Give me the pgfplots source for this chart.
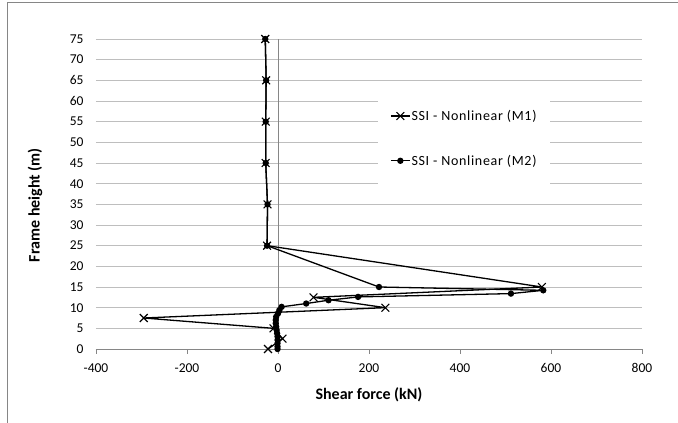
\documentclass[border=0pt]{standalone}
\usepackage{fontspec}
\setmainfont{Carlito}
\usepackage{pgfplots}
\pgfplotsset{compat=1.18}

\definecolor{gridgray}{RGB}{190,190,190}
\definecolor{axisgray}{RGB}{134,134,134}

\begin{document}
\begin{tikzpicture}
\useasboundingbox (-96pt,-74pt) rectangle (582pt,349pt);
\draw[axisgray,line width=1pt] (-88pt,-74pt) -- (-88pt,346pt) -- (582pt,346pt);
\begin{axis}[
  scale only axis,
  width=546pt, height=310pt,
  at={(0,0)}, anchor=south west,
  xmin=-400, xmax=800, ymin=0, ymax=75,
  xtick={-400,-200,0,200,400,600,800},
  ytick={0,5,...,75},
  axis x line*=bottom, axis y line*=left,
  x axis line style={axisgray, line width=0.8pt, -},
  y axis line style={draw=none},
  xtick style={axisgray, line width=0.8pt},
  ytick style={draw=none},
  tick align=outside, major tick length=5pt,
  ymajorgrids, grid style={gridgray, line width=0.8pt},
  /pgf/number format/assume math mode=true,
  tick label style={font=\fontsize{13.5}{15}\selectfont, black},
  xticklabel style={yshift=-6pt},
  yticklabel style={xshift=-4pt},
  xlabel={\textbf{Shear force (kN)}},
  ylabel={\textbf{Frame height (m)}},
  label style={font=\fontsize{16}{18}\selectfont},
  xlabel style={at={(rel axis cs:0.5,0)}, anchor=center, yshift=-46pt},
  ylabel style={at={(rel axis cs:-0.1117,0.4645)}, anchor=center},
  legend style={at={(rel axis cs:0.5165,0.842)}, anchor=north west,
    draw=none, fill=white,
    font=\fontsize{14}{16}\selectfont\addfontfeatures{LetterSpace=5},
    inner xsep=12pt, inner ysep=22pt, row sep=33pt,
    nodes={inner xsep=1pt, inner ysep=0pt},
    /tikz/every even column/.append style={column sep=0pt}},
  legend cell align=left,
  legend image code/.code={\draw[#1, mark=none] plot coordinates {(0pt,0pt) (19pt,0pt)};
    \draw[#1, only marks] plot coordinates {(9.5pt,0pt)};},
]
\draw[axisgray, line width=0.8pt] (axis cs:0,0) -- (axis cs:0,75);
\addplot[black, line width=1.3pt, mark=x, mark size=5.5pt, mark options={line width=1.1pt}] coordinates {
(-28,75)(-26,65)(-27,55)(-27,45)(-23,35)(-24,25)(580,15)(78,12.5)(236,10)(-295,7.5)(-10,5)(10,2.5)(-22,0)
};
\addplot[black, line width=1.3pt, mark=*, mark size=2.5pt] coordinates {
(-28,75)(-26,65)(-27,55)(-27,45)(-23,35)(-24,25)(222,15)(583,14.2)(512,13.4)(176,12.6)(111,11.8)(62,11)(8,10.2)
(3,9.4)(0,8.6)(-4,7.8)(-5,7)(-5,6.2)(-4,5.4)(-3,4.6)(-2,3.8)(-1,3)(-1,2.2)(-1,1.4)(-1,0.6)(-1,0)
};
\legend{SSI - Nonlinear (M1), SSI - Nonlinear (M2)}
\end{axis}
\end{tikzpicture}
\end{document}
